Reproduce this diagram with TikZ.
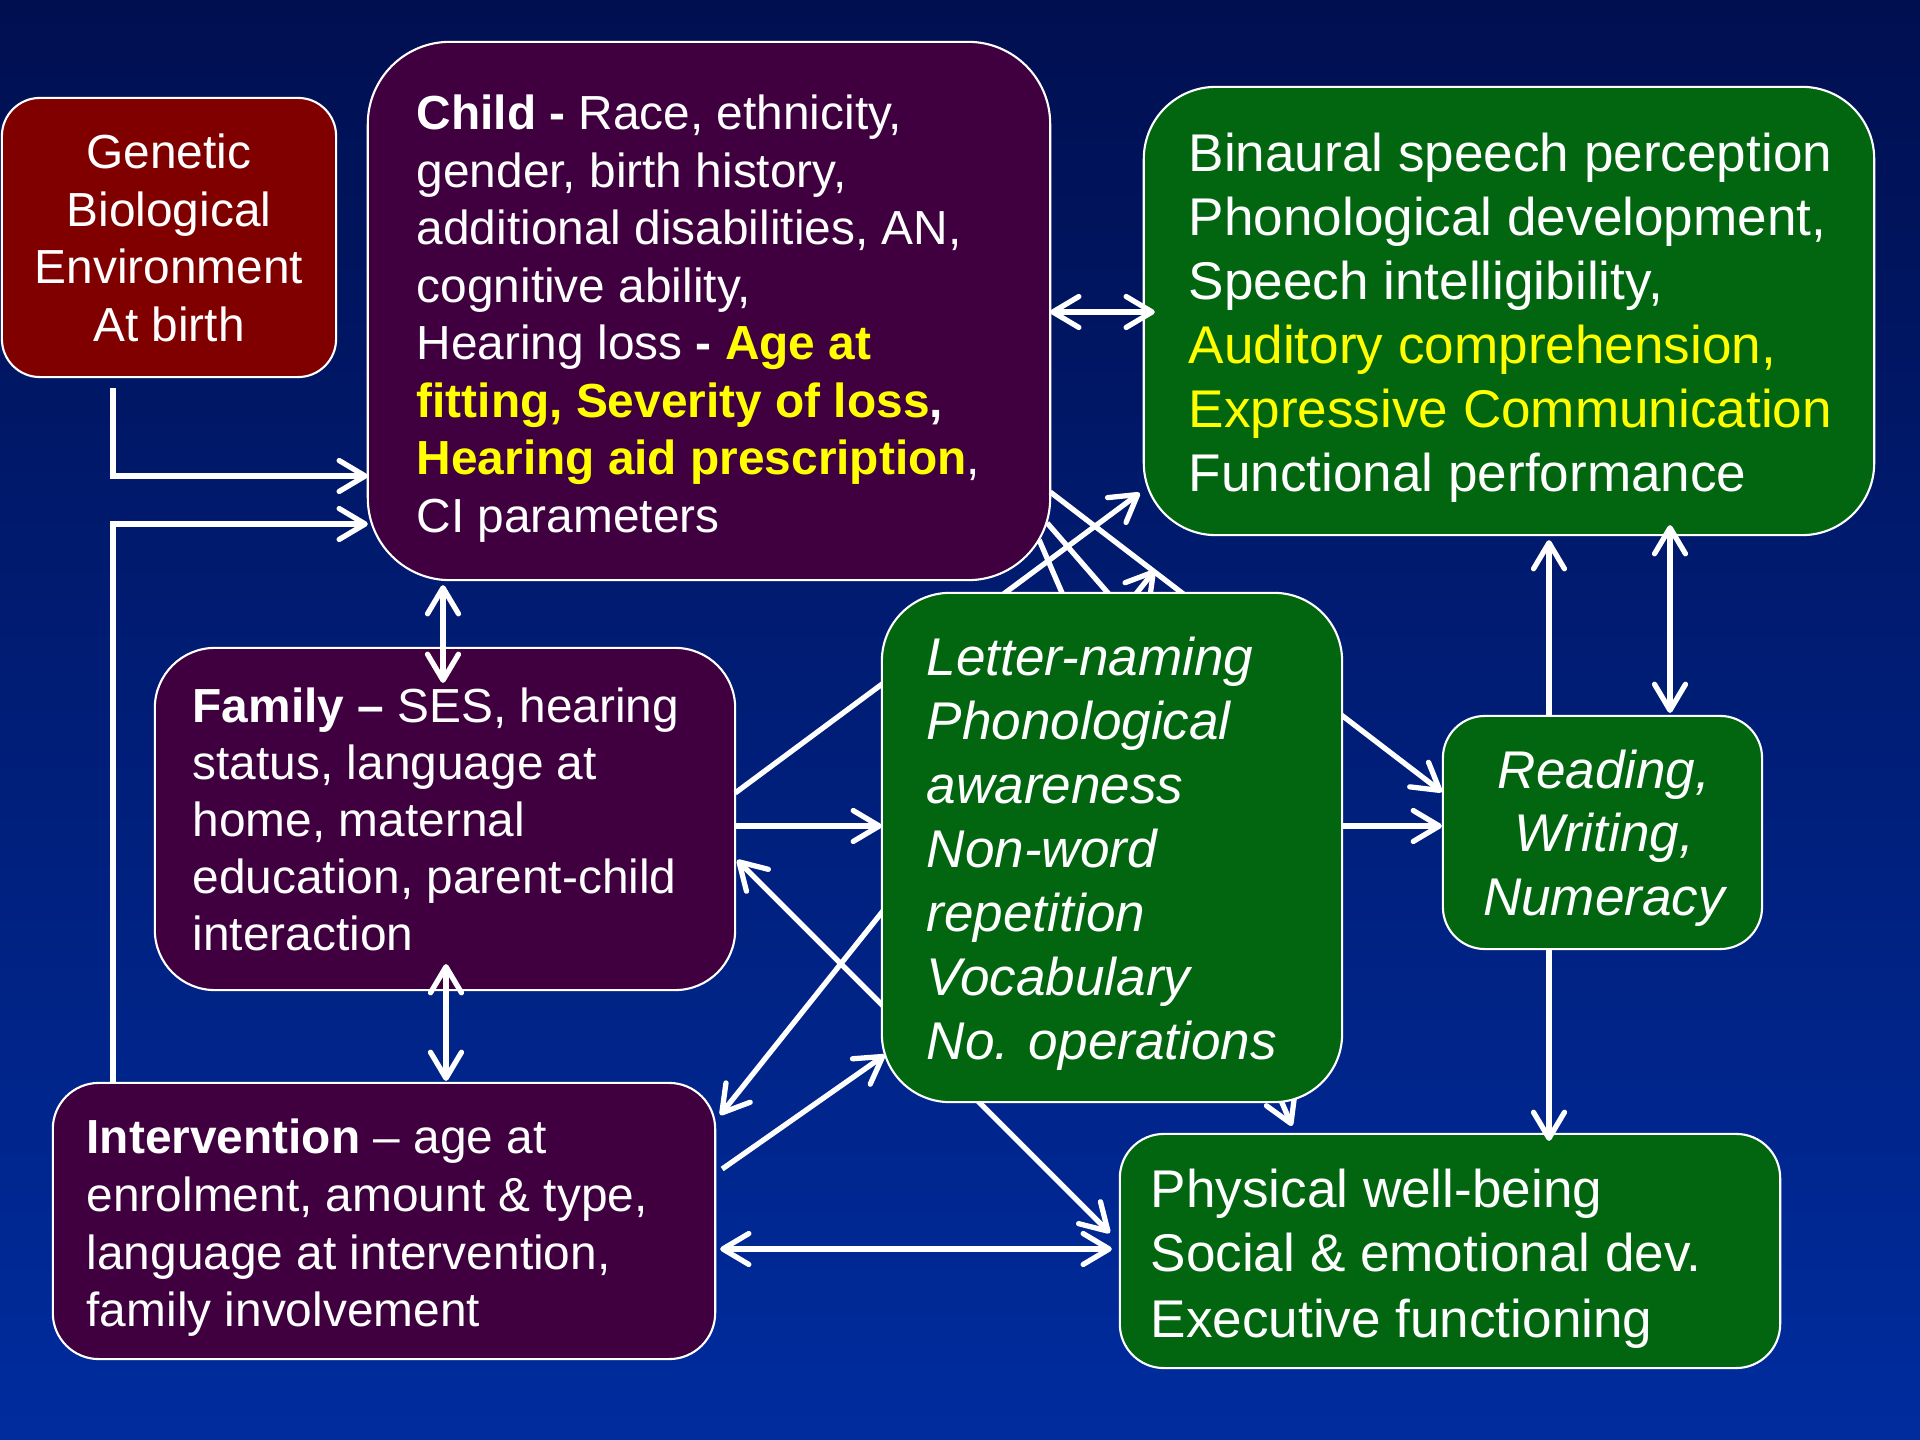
\documentclass[tikz,border=0pt]{standalone}
\usepackage{fontspec}
\setmainfont{Liberation Sans}
\usetikzlibrary{arrows.meta,calc}
\definecolor{bgtop}{RGB}{0,15,80}
\definecolor{bgbot}{RGB}{0,44,158}
\definecolor{dred}{RGB}{128,0,0}
\definecolor{dpurp}{RGB}{64,0,64}
\definecolor{dgreen}{RGB}{2,102,16}
\definecolor{hl}{RGB}{255,255,0}
\begin{document}
\begin{tikzpicture}[x=0.01cm,y=-0.01cm,
  >={Straight Barb[length=7.4pt,width=8.8pt,round]},
  box/.style={draw=white,line width=0.6pt,inner sep=0pt,outer sep=0pt},
  arr/.style={draw=white,line width=1.5pt,->},
  darr/.style={draw=white,line width=1.5pt,<->},
  sm/.style={text=white,inner sep=0pt,anchor=base west,font=\fontsize{13.6pt}{16.4pt}\selectfont},
  lg/.style={text=white,inner sep=0pt,anchor=base west,font=\fontsize{15.1pt}{18.2pt}\selectfont}]

\useasboundingbox (0,0) rectangle (1920,1440);
\shade[top color=bgtop,bottom color=bgbot] (0,0) rectangle (1920,1440);

% boxes
\node[box,fill=dred,rounded corners=0.38cm,minimum width=3.34cm,minimum height=2.79cm] (genetic) at (169,237.5) {};
\node[box,fill=dpurp,rounded corners=0.82cm,minimum width=6.82cm,minimum height=5.38cm] (child) at (709,311) {};
\node[box,fill=dgreen,rounded corners=0.72cm,minimum width=7.30cm,minimum height=4.48cm] (binaural) at (1509,311) {};
\node[box,fill=dpurp,rounded corners=0.60cm,minimum width=5.80cm,minimum height=3.42cm] (family) at (445,819) {};
\node[box,fill=dpurp,rounded corners=0.46cm,minimum width=6.62cm,minimum height=2.76cm] (intervention) at (384,1221) {};
\node[box,fill=dgreen,rounded corners=0.42cm,minimum width=3.19cm,minimum height=2.33cm] (reading) at (1602.5,832.5) {};
\node[box,fill=dgreen,rounded corners=0.44cm,minimum width=6.60cm,minimum height=2.34cm] (physical) at (1450,1251) {};

% connectors passing behind the letter box
\coordinate (upend) at (1155,570);
\coordinate (letterin) at (1180,676);
\draw[arr] (family.east |- 0,793) -- ($(binaural.west |- 0,493)+(-4,0)$);
\draw[darr] ($(family.east |- 0,860)+(2,0)$) -- ($(physical.west |- 0,1233)+(-10,0)$);
\draw[darr] ($(intervention.east |- 0,1115)+(5,0)$) -- (upend);
\draw[arr] ($(child.east |- 0,540)+(-11,0)$) -- ($(physical.north -| 1292,0)+(0,-8)$);
\draw[arr] ($(child.east |- 0,523)+(-3,0)$) -- (letterin);
\draw[arr] (child.east |- 0,492) -- ($(reading.west |- 0,792)+(-1,0)$);

% letter box
\node[box,fill=dgreen,rounded corners=0.68cm,minimum width=4.60cm,minimum height=5.09cm] (letter) at (1112,847.5) {};

% other connectors
\draw[arr] ($(genetic.south -| 113,0)+(0,11)$) |- (child.west |- 0,476);
\draw[arr] (intervention.north -| 113,0) |- (child.west |- 0,524);
\draw[darr] (child.east |- 0,312) -- ($(binaural.west |- 0,312)+(11,0)$);
\draw[darr] ($(child.south -| 443,0)+(0,5)$) -- ($(family.north -| 443,0)+(0,35)$);
\draw[darr] ($(family.south -| 446,0)+(0,-26)$) -- ($(intervention.north -| 446,0)+(0,-2)$);
\draw[arr] (family.east |- 0,826) -- (letter.west |- 0,826);
\draw[arr] ($(intervention.east |- 0,1169)+(7,0)$) -- ($(letter.west |- 0,1055)+(3,0)$);
\draw[arr] (letter.east |- 0,826) -- ($(reading.west |- 0,826)+(-1,0)$);
\draw[arr] (reading.north -| 1549,0) -- ($(binaural.south -| 1549,0)+(0,5)$);
\draw[darr] ($(reading.north -| 1670,0)+(0,-3)$) -- ($(binaural.south -| 1670,0)+(0,-10)$);
\draw[arr] (reading.south -| 1549,0) -- ($(physical.north -| 1549,0)+(0,7)$);
\draw[darr] ($(intervention.east |- 0,1249)+(5,0)$) -- ($(physical.west |- 0,1249)+(-8,0)$);

% texts
\node[sm,anchor=base] (gen1) at (169,169) {Genetic};
\node[sm,anchor=base] (gen2) at (169,227) {Biological};
\node[sm,anchor=base] (gen3) at (169,284) {Environment};
\node[sm,anchor=base] (gen4) at (169,342) {At birth};

\node[sm] (ch1) at (416,130) {\textbf{Child -} Race, ethnicity,};
\node[sm] (ch2) at (416,188) {gender, birth history,};
\node[sm] (ch3) at (416,245) {additional disabilities, AN,};
\node[sm] (ch4) at (416,303) {cognitive ability,};
\node[sm] (ch5) at (416,360) {Hearing loss \textbf{- \textcolor{hl}{Age at}}};
\node[sm] (ch6) at (416,418) {\textbf{\textcolor{hl}{fitting, Severity of loss},}};
\node[sm] (ch7) at (416,475) {\textbf{\textcolor{hl}{Hearing aid prescription}},};
\node[sm] (ch8) at (416,533) {CI parameters};

\node[lg] (bi1) at (1188,172) {Binaural speech perception};
\node[lg] (bi2) at (1188,236) {Phonological development,};
\node[lg] (bi3) at (1188,300) {Speech intelligibility,};
\node[lg,text=hl] (bi4) at (1188,364) {Auditory comprehension,};
\node[lg,text=hl] (bi5) at (1188,428) {Expressive Communication};
\node[lg] (bi6) at (1188,492) {Functional performance};

\node[sm] (fa1) at (192,723) {\textbf{Family –} SES, hearing};
\node[sm] (fa2) at (192,780) {status, language at};
\node[sm] (fa3) at (192,837) {home, maternal};
\node[sm] (fa4) at (192,894) {education, parent-child};
\node[sm] (fa5) at (192,951) {interaction};

\node[sm] (in1) at (86,1154) {\textbf{Intervention} – age at};
\node[sm] (in2) at (86,1212) {enrolment, amount \& type,};
\node[sm] (in3) at (86,1270) {language at intervention,};
\node[sm] (in4) at (86,1327) {family involvement};

\node[lg,font=\fontsize{15.1pt}{18.2pt}\selectfont\itshape] (le1) at (926,676) {Letter-naming};
\node[lg,font=\fontsize{15.1pt}{18.2pt}\selectfont\itshape] (le2) at (926,740) {Phonological};
\node[lg,font=\fontsize{15.1pt}{18.2pt}\selectfont\itshape] (le3) at (926,804) {awareness};
\node[lg,font=\fontsize{15.1pt}{18.2pt}\selectfont\itshape] (le4) at (926,868) {Non-word};
\node[lg,font=\fontsize{15.1pt}{18.2pt}\selectfont\itshape] (le5) at (926,932) {repetition};
\node[lg,font=\fontsize{15.1pt}{18.2pt}\selectfont\itshape] (le6) at (926,996) {Vocabulary};
\node[lg,font=\fontsize{15.1pt}{18.2pt}\selectfont\itshape] (le7) at (926,1060) {No. operations};

\node[lg,anchor=base,font=\fontsize{15.1pt}{18.2pt}\selectfont\itshape] (re1) at (1604,789) {Reading,};
\node[lg,anchor=base,font=\fontsize{15.1pt}{18.2pt}\selectfont\itshape] (re2) at (1604,852) {Writing,};
\node[lg,anchor=base,font=\fontsize{15.1pt}{18.2pt}\selectfont\itshape] (re3) at (1604,916) {Numeracy};

\node[lg] (ph1) at (1150,1208) {Physical well-being};
\node[lg] (ph2) at (1150,1272) {Social \& emotional dev.};
\node[lg] (ph3) at (1150,1337) {Executive functioning};
\end{tikzpicture}
\end{document}
